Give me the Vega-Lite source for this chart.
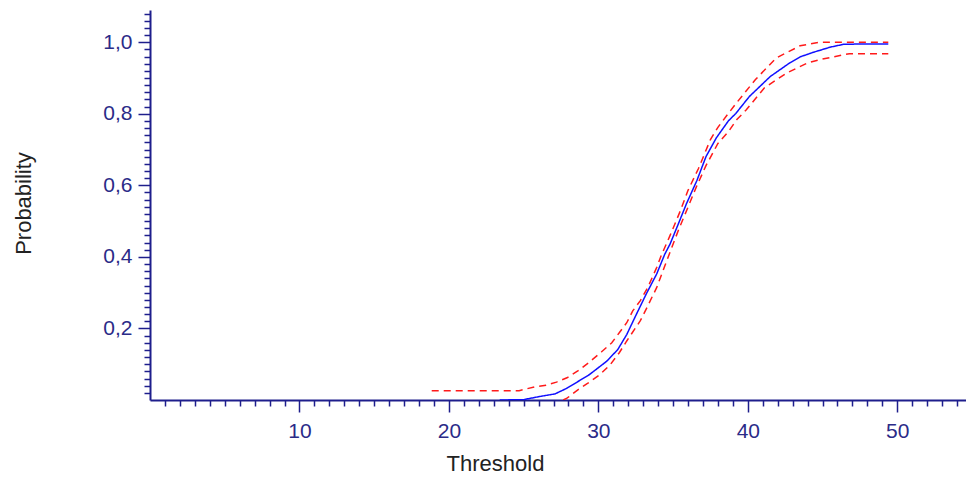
{
  "$schema": "https://vega.github.io/schema/vega-lite/v6.json",
  "width": 816,
  "height": 390,
  "autosize": {"type": "none"},
  "padding": {"left": 150, "top": 10, "right": 0, "bottom": 78},
  "background": "white",
  "config": {"view": {"stroke": null}},
  "data": {"values": [
    {"x": 23.4, "y": 0.0, "s": "fit"},
    {"x": 25.0, "y": 0.001, "s": "fit"},
    {"x": 26.1, "y": 0.01, "s": "fit"},
    {"x": 27.1, "y": 0.017, "s": "fit"},
    {"x": 27.9, "y": 0.033, "s": "fit"},
    {"x": 28.3, "y": 0.043, "s": "fit"},
    {"x": 29.4, "y": 0.071, "s": "fit"},
    {"x": 30.55, "y": 0.108, "s": "fit"},
    {"x": 31.3, "y": 0.141, "s": "fit"},
    {"x": 31.9, "y": 0.183, "s": "fit"},
    {"x": 32.55, "y": 0.24, "s": "fit"},
    {"x": 33.2, "y": 0.296, "s": "fit"},
    {"x": 33.9, "y": 0.352, "s": "fit"},
    {"x": 34.45, "y": 0.408, "s": "fit"},
    {"x": 34.8, "y": 0.436, "s": "fit"},
    {"x": 35.35, "y": 0.492, "s": "fit"},
    {"x": 35.9, "y": 0.549, "s": "fit"},
    {"x": 36.6, "y": 0.614, "s": "fit"},
    {"x": 37.2, "y": 0.68, "s": "fit"},
    {"x": 37.9, "y": 0.733, "s": "fit"},
    {"x": 38.7, "y": 0.78, "s": "fit"},
    {"x": 39.2, "y": 0.801, "s": "fit"},
    {"x": 40.1, "y": 0.848, "s": "fit"},
    {"x": 41.5, "y": 0.904, "s": "fit"},
    {"x": 42.8, "y": 0.942, "s": "fit"},
    {"x": 43.5, "y": 0.959, "s": "fit"},
    {"x": 44.4, "y": 0.972, "s": "fit"},
    {"x": 44.8, "y": 0.977, "s": "fit"},
    {"x": 45.5, "y": 0.986, "s": "fit"},
    {"x": 46.4, "y": 0.994, "s": "fit"},
    {"x": 47.5, "y": 0.995, "s": "fit"},
    {"x": 49.4, "y": 0.995, "s": "fit"},
    {"x": 18.85, "y": 0.026, "s": "upper"},
    {"x": 24.7, "y": 0.026, "s": "upper"},
    {"x": 25.75, "y": 0.037, "s": "upper"},
    {"x": 26.5, "y": 0.041, "s": "upper"},
    {"x": 27.2, "y": 0.05, "s": "upper"},
    {"x": 27.9, "y": 0.062, "s": "upper"},
    {"x": 28.65, "y": 0.082, "s": "upper"},
    {"x": 29.4, "y": 0.106, "s": "upper"},
    {"x": 30.2, "y": 0.134, "s": "upper"},
    {"x": 30.9, "y": 0.16, "s": "upper"},
    {"x": 31.4, "y": 0.188, "s": "upper"},
    {"x": 31.9, "y": 0.216, "s": "upper"},
    {"x": 32.3, "y": 0.249, "s": "upper"},
    {"x": 32.8, "y": 0.277, "s": "upper"},
    {"x": 33.3, "y": 0.314, "s": "upper"},
    {"x": 33.9, "y": 0.37, "s": "upper"},
    {"x": 34.2, "y": 0.403, "s": "upper"},
    {"x": 34.8, "y": 0.46, "s": "upper"},
    {"x": 35.45, "y": 0.525, "s": "upper"},
    {"x": 36.0, "y": 0.586, "s": "upper"},
    {"x": 36.7, "y": 0.647, "s": "upper"},
    {"x": 37.5, "y": 0.728, "s": "upper"},
    {"x": 38.0, "y": 0.762, "s": "upper"},
    {"x": 38.7, "y": 0.801, "s": "upper"},
    {"x": 39.2, "y": 0.828, "s": "upper"},
    {"x": 40.5, "y": 0.895, "s": "upper"},
    {"x": 41.9, "y": 0.956, "s": "upper"},
    {"x": 42.8, "y": 0.975, "s": "upper"},
    {"x": 43.5, "y": 0.99, "s": "upper"},
    {"x": 44.8, "y": 1.0, "s": "upper"},
    {"x": 49.4, "y": 1.0, "s": "upper"},
    {"x": 27.65, "y": 0.0, "s": "lower"},
    {"x": 27.9, "y": 0.005, "s": "lower"},
    {"x": 28.65, "y": 0.029, "s": "lower"},
    {"x": 29.3, "y": 0.047, "s": "lower"},
    {"x": 30.1, "y": 0.071, "s": "lower"},
    {"x": 30.8, "y": 0.099, "s": "lower"},
    {"x": 31.4, "y": 0.132, "s": "lower"},
    {"x": 31.9, "y": 0.165, "s": "lower"},
    {"x": 32.8, "y": 0.221, "s": "lower"},
    {"x": 33.2, "y": 0.254, "s": "lower"},
    {"x": 33.9, "y": 0.314, "s": "lower"},
    {"x": 34.45, "y": 0.375, "s": "lower"},
    {"x": 35.35, "y": 0.474, "s": "lower"},
    {"x": 36.0, "y": 0.539, "s": "lower"},
    {"x": 36.55, "y": 0.595, "s": "lower"},
    {"x": 37.2, "y": 0.655, "s": "lower"},
    {"x": 38.0, "y": 0.717, "s": "lower"},
    {"x": 38.7, "y": 0.75, "s": "lower"},
    {"x": 39.25, "y": 0.783, "s": "lower"},
    {"x": 39.9, "y": 0.811, "s": "lower"},
    {"x": 41.1, "y": 0.872, "s": "lower"},
    {"x": 42.6, "y": 0.914, "s": "lower"},
    {"x": 44.0, "y": 0.942, "s": "lower"},
    {"x": 44.8, "y": 0.951, "s": "lower"},
    {"x": 45.6, "y": 0.958, "s": "lower"},
    {"x": 46.8, "y": 0.968, "s": "lower"},
    {"x": 49.4, "y": 0.968, "s": "lower"}
  ]},
  "mark": {"type": "line", "clip": true},
  "encoding": {
    "x": {
      "field": "x", "type": "quantitative",
      "scale": {"domain": [0, 54.6], "nice": false, "zero": false},
      "axis": {
        "title": "Threshold",
        "values": [1,2,3,4,5,6,7,8,9,10,11,12,13,14,15,16,17,18,19,20,21,22,23,24,25,26,27,28,29,30,31,32,33,34,35,36,37,38,39,40,41,42,43,44,45,46,47,48,49,50,51,52,53,54],
        "labelExpr": "datum.value % 10 === 0 ? datum.label : ''",
        "grid": false,
        "domainColor": "#1e1e8c", "domainWidth": 2,
        "tickColor": "#1e1e8c", "tickWidth": 1.5,
        "tickSize": {"condition": {"test": "datum.value % 10 === 0", "value": 12}, "value": 6},
        "labelFont": "Liberation Sans", "labelFontSize": 21, "labelColor": "#2b2b88",
        "labelPadding": 8, "labelFlush": false, "labelOverlap": false,
        "titleFont": "Liberation Sans", "titleFontSize": 22, "titleFontWeight": "normal", "titleColor": "#222222",
        "titleX": 345, "titleY": 70, "titleBaseline": "alphabetic", "titleAlign": "center"
      }
    },
    "y": {
      "field": "y", "type": "quantitative",
      "scale": {"domain": [0, 1.09], "nice": false, "zero": false},
      "axis": {
        "title": "Probability",
        "values": [0.02,0.04,0.06,0.08,0.1,0.12,0.14,0.16,0.18,0.2,0.22,0.24,0.26,0.28,0.3,0.32,0.34,0.36,0.38,0.4,0.42,0.44,0.46,0.48,0.5,0.52,0.54,0.56,0.58,0.6,0.62,0.64,0.66,0.68,0.7,0.72,0.74,0.76,0.78,0.8,0.82,0.84,0.86,0.88,0.9,0.92,0.94,0.96,0.98,1.0,1.02,1.04,1.06,1.08],
        "labelExpr": "abs(datum.value*5 - round(datum.value*5)) < 0.001 ? replace(format(datum.value, '.1f'), '.', ',') : ''",
        "grid": false,
        "domainColor": "#1e1e8c", "domainWidth": 2,
        "tickColor": "#1e1e8c", "tickWidth": 1.5,
        "tickSize": {"condition": {"test": "abs(datum.value*5 - round(datum.value*5)) < 0.001", "value": 12}, "value": 6},
        "labelFont": "Liberation Sans", "labelFontSize": 21, "labelColor": "#2b2b88",
        "labelPadding": 6, "labelFlush": false, "labelOverlap": false,
        "titleFont": "Liberation Sans", "titleFontSize": 22, "titleFontWeight": "normal", "titleColor": "#222222",
        "titleX": -120, "titleY": 193, "titleAngle": 270, "titleBaseline": "alphabetic", "titleAlign": "center"
      }
    },
    "color": {
      "field": "s", "type": "nominal",
      "scale": {"domain": ["fit", "upper", "lower"], "range": ["#1010ff", "#ff1a1a", "#ff1a1a"]},
      "legend": null
    },
    "strokeDash": {
      "field": "s", "type": "nominal",
      "scale": {"domain": ["fit", "upper", "lower"], "range": [[1, 0], [7, 5], [7, 5]]},
      "legend": null
    },
    "strokeWidth": {"value": 1.5}
  }
}
